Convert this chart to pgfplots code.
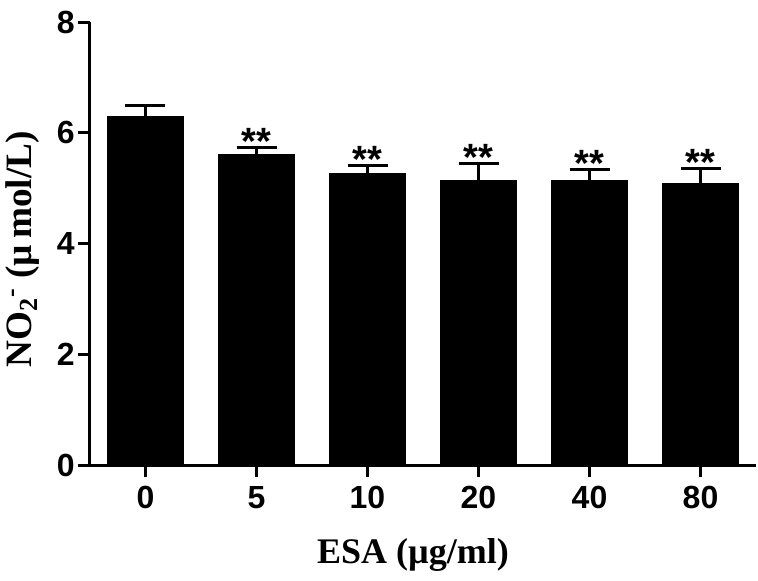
\documentclass[border=0pt]{standalone}
\usepackage{fontspec}
\setmainfont{Liberation Serif}
\setsansfont{Liberation Sans}
\usepackage{pgfplots}
\pgfplotsset{compat=1.18}
\begin{document}
\begin{tikzpicture}
\useasboundingbox (-45pt,-57.5pt) rectangle (334pt,232.5pt);
\begin{axis}[
  at={(0,0)}, anchor=south west,
  scale only axis, width=333pt, height=221.5pt,
  xmin=-0.5, xmax=5.5, ymin=0, ymax=8,
  axis x line*=bottom, axis y line*=left,
  axis line style={line width=1.5pt, -},
  xtick={0,1,2,3,4,5}, xticklabels={0,5,10,20,40,80},
  ytick={0,2,4,6,8},
  tick align=outside, major tick length=6pt,
  tick style={black, line width=1.5pt},
  tick label style={font=\sffamily\bfseries\fontsize{16}{18}\selectfont},
  yticklabel style={inner xsep=1.5pt},
  xticklabel style={inner ysep=4.5pt},
  /pgf/number format/assume math mode=true,
  every axis x label/.style={at={(rel axis cs:0.5,0)}, xshift=-5pt, yshift=-49pt, anchor=base},
  every axis y label/.style={at={(rel axis cs:0,0.5)}, xshift=-29pt, yshift=-3pt, rotate=90, anchor=base},
  xlabel style={font=\bfseries\fontsize{18}{20}\selectfont},
  ylabel style={font=\bfseries\fontsize{18.6}{20}\selectfont},
  xlabel={ESA (µg/ml)},
  ylabel={NO\textsubscript{2}\textsuperscript{-} (µ\,mol/L)},
  clip=false,
]
\addplot[ybar, bar width=0.69, fill=black, draw=black, line width=0.5pt,
  error bars/.cd, y dir=plus, y explicit,
  error bar style={line width=1.5pt, black},
  error mark options={rotate=90, mark size=10pt, line width=1.5pt, black}]
  coordinates {
  (0,6.30) +- (0,0.20)
  (1,5.60) +- (0,0.13)
  (2,5.27) +- (0,0.14)
  (3,5.13) +- (0,0.31)
  (4,5.13) +- (0,0.20)
  (5,5.09) +- (0,0.27)
  };
\addplot[draw=none, mark=none, nodes near coords={**},
  every node near coord/.append style={anchor=base, yshift=-3.5pt, inner sep=0pt,
    font=\sffamily\bfseries\fontsize{19}{20}\selectfont}]
  coordinates {(1,5.73) (2,5.41) (3,5.44) (4,5.33) (5,5.36)};
\end{axis}
\end{tikzpicture}
\end{document}
